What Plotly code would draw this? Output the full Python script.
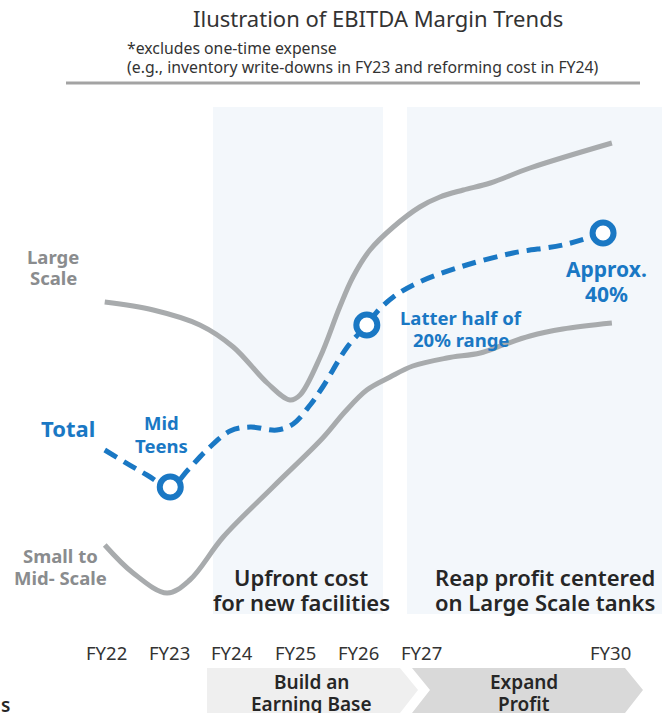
import plotly.graph_objects as go

W, H = 662, 713

# ---- data (illustrative margin index) ----
large_fy = [21.98, 22.75, 23.49, 24.02, 24.56, 24.92, 25.08, 25.40, 25.71, 25.92, 26.19, 26.56, 26.98, 27.30, 27.67, 28.10, 28.73, 30.03]
large_val = [33.8, 33.0, 31.5, 29.3, 25.7, 24.0, 24.5, 28.3, 33.3, 36.3, 39.0, 41.3, 43.3, 44.3, 45.0, 45.7, 47.2, 49.7]

small_fy = [21.98, 22.43, 22.97, 23.33, 23.86, 24.65, 25.44, 25.79, 26.14, 26.51, 26.87, 27.41, 27.94, 28.30, 28.73, 29.25, 30.03]
small_val = [9.5, 6.7, 4.7, 6.0, 10.3, 15.3, 20.2, 22.8, 25.0, 26.3, 27.4, 28.2, 28.7, 29.5, 30.4, 31.1, 31.7]

total_fy = [21.98, 22.65, 23.02, 23.30, 23.60, 23.97, 24.29, 24.71, 24.97, 25.24, 25.44, 25.83, 26.14, 26.30, 26.56, 26.94, 27.62, 28.46, 29.25, 29.89]
total_val = [19.0, 16.5, 15.3, 17.0, 19.0, 20.9, 21.3, 21.0, 21.6, 23.5, 25.3, 29.3, 31.5, 32.8, 34.3, 35.7, 37.3, 38.7, 39.5, 40.7]
milestone_idx = [2, 12, 19]  # Mid Teens, Latter half of 20% range, Approx. 40%

tick_fy = [22, 23, 24, 25, 26, 27, 30]
tick_labels = ["FY22", "FY23", "FY24", "FY25", "FY26", "FY27", "FY30"]

# ---- styling ----
BLUE = "#1a78c4"
GRAY = "#a8abad"
LABEL_GRAY = "#8a8c8e"
DARK = "#262626"
FONT = "Noto Sans"

# pixel -> paper helpers (plot area spans the full figure)
def px(x):
    return x / W

def py(y):
    return 1 - y / H

fig = go.Figure()

fig.add_trace(go.Scatter(x=large_fy, y=large_val, mode="lines",
                         line=dict(color=GRAY, width=5, shape="spline", smoothing=1.0),
                         hoverinfo="skip", showlegend=False))
fig.add_trace(go.Scatter(x=small_fy, y=small_val, mode="lines",
                         line=dict(color=GRAY, width=5, shape="spline", smoothing=1.0),
                         hoverinfo="skip", showlegend=False))
fig.add_trace(go.Scatter(x=total_fy, y=total_val, mode="lines",
                         line=dict(color=BLUE, width=5, shape="spline", smoothing=1.0, dash="14px,8px"),
                         hoverinfo="skip", showlegend=False))
fig.add_trace(go.Scatter(x=[total_fy[i] for i in milestone_idx],
                         y=[total_val[i] for i in milestone_idx],
                         mode="markers",
                         marker=dict(symbol="circle", size=21, color="white",
                                     line=dict(color=BLUE, width=6)),
                         hoverinfo="skip", showlegend=False))

shapes = []
# shaded phase bands
shapes.append(dict(type="rect", xref="paper", yref="paper", layer="below",
                   x0=px(213), x1=px(383), y0=py(614), y1=py(107),
                   fillcolor="#f3f7fb", line=dict(width=0)))
shapes.append(dict(type="rect", xref="paper", yref="paper", layer="below",
                   x0=px(407), x1=px(662), y0=py(614), y1=py(107),
                   fillcolor="#f3f7fb", line=dict(width=0)))
# rule under subtitle
shapes.append(dict(type="line", xref="paper", yref="paper",
                   x0=px(66), x1=px(640), y0=py(83), y1=py(83),
                   line=dict(color="#a3a3a3", width=3)))

# chevrons (pixel path converted to paper)
def path(points):
    return "M " + " L ".join(f"{px(x):.5f},{py(y):.5f}" for x, y in points) + " Z"

shapes.append(dict(type="path", xref="paper", yref="paper", layer="below",
                   path=path([(207, 668), (400, 668), (418, 690), (400, 713), (207, 713)]),
                   fillcolor="#efefef", line=dict(width=0)))
shapes.append(dict(type="path", xref="paper", yref="paper", layer="below",
                   path=path([(412, 668), (625, 668), (643, 690), (625, 713), (412, 713), (430, 690)]),
                   fillcolor="#d9d9d9", line=dict(width=0)))

ann = []

def text(x, y, t, size, color, weight="normal", xanchor="center"):
    ann.append(dict(x=px(x), y=py(y), xref="paper", yref="paper", text=t,
                    showarrow=False, xanchor=xanchor, yanchor="middle",
                    font=dict(family=FONT, size=size, color=color, weight=weight)))

def lines(x, ys, ts, size, color, weight="normal", xanchor="center"):
    for y, t in zip(ys, ts):
        text(x, y, t, size, color, weight, xanchor)

text(378, 18, "Ilustration of EBITDA Margin Trends", 22, "#333333")
lines(125, [48, 67], ["*excludes one-time expense",
                      "(e.g., inventory write-downs in FY23 and reforming cost in FY24)"],
      15.8, "#333333", xanchor="left")

lines(53, [256, 278], ["Large", "Scale"], 18.5, LABEL_GRAY, "bold")
text(68, 428, "Total", 22, BLUE, "bold")
lines(161, [423, 445], ["Mid", "Teens"], 18.5, BLUE, "bold")
lines(60, [555, 577], ["Small to", "Mid- Scale"], 18.5, LABEL_GRAY, "bold")
lines(461, [317, 339], ["Latter half of", "20% range"], 18.5, BLUE, "bold")
lines(606, [269, 294], ["Approx.", "40%"], 21, BLUE, "bold")

lines(301, [577, 602], ["Upfront cost", "for new facilities"], 22, DARK, 600)
lines(545, [577, 602], ["Reap profit centered", "on Large Scale tanks"], 22, DARK, 600)

lines(311, [682, 704], ["Build an", "Earning Base"], 19, DARK, 600)
lines(524, [682, 704], ["Expand", "Profit"], 19, DARK, 600)
text(5, 705, "s", 19, DARK, 600)

# tick labels on the FY scale
for f, lab in zip(tick_fy, tick_labels):
    ann.append(dict(x=f, y=py(652), xref="x", yref="paper", text=lab, showarrow=False,
                    xanchor="center", yanchor="middle",
                    font=dict(family=FONT, size=18.5, color="#333333")))

# x mapping: FY22 at 106 px, 63 px per year
x0 = 22 - 106 / 63
x1 = 22 + (W - 106) / 63
fig.update_layout(
    width=W, height=H,
    margin=dict(l=0, r=0, t=0, b=0),
    paper_bgcolor="white", plot_bgcolor="rgba(0,0,0,0)",
    xaxis=dict(range=[x0, x1], visible=False, fixedrange=True),
    yaxis=dict(range=[(640 - H) / 10, 64], visible=False, fixedrange=True),
    shapes=shapes, annotations=ann,
)

fig.write_html("out.html", config={"staticPlot": True},
               post_script="document.body.style.margin='0';document.body.style.overflow='hidden';")
